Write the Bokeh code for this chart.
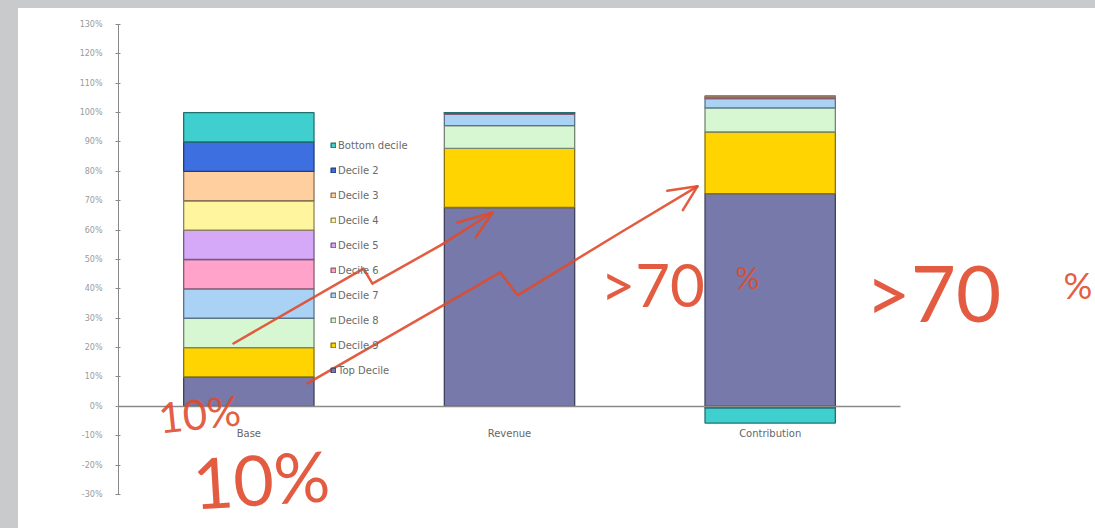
from bokeh.plotting import figure
from bokeh.models import Range1d, Legend, LegendItem, Label, FixedTicker
from bokeh.embed import file_html
from bokeh.resources import INLINE

# ---------------- data ----------------
categories = ["Base", "Revenue", "Contribution"]
series = ["Top Decile", "Decile 9", "Decile 8", "Decile 7", "Decile 6",
          "Decile 5", "Decile 4", "Decile 3", "Decile 2", "Bottom decile"]
base_pct = [10, 10, 10, 10, 10, 10, 10, 10, 10, 10]
revenue_pct = [67.7, 20.1, 7.8, 3.8, 0.3, 0.15, 0.05, 0.05, 0.03, 0.02]
contribution_pct = [72.4, 21.0, 8.2, 3.2, 0.4, 0.2, 0.2, 0.1, -0.6, -5.1]
y_ticks = [-30, -20, -10, 0, 10, 20, 30, 40, 50, 60, 70, 80, 90, 100, 110, 120, 130]
y_tick_labels = ["-30%", "-20%", "-10%", "0%", "10%", "20%", "30%", "40%", "50%",
                 "60%", "70%", "80%", "90%", "100%", "110%", "120%", "130%"]

# ---------------- styles ----------------
colors = ["#7779aa", "#ffd400", "#d6f7d2", "#a9d2f5", "#ffa3cb",
          "#d6a9f8", "#fff59e", "#ffcf9f", "#3e6fe0", "#3fcfcf"]


def darker(hex_color, f=0.55):
    r, g, b = (int(hex_color[i:i + 2], 16) for i in (1, 3, 5))
    return "#%02x%02x%02x" % (int(r * f), int(g * f), int(b * f))


values_by_category = [base_pct, revenue_pct, contribution_pct]
x_pos = [i + 0.5 for i in range(len(categories))]

# stacked bottoms / tops (positives up, negatives down)
bottoms = [[0.0] * len(categories) for _ in series]
tops = [[0.0] * len(categories) for _ in series]
for ci, vals in enumerate(values_by_category):
    pos, neg = 0.0, 0.0
    for si, v in enumerate(vals):
        if v >= 0:
            bottoms[si][ci], tops[si][ci] = pos, pos + v
            pos += v
        else:
            bottoms[si][ci], tops[si][ci] = neg + v, neg
            neg += v

p = figure(x_range=Range1d(0, 3.748), y_range=Range1d(-40.9, 130),
           width=1077, height=518,
           output_backend="svg", toolbar_location=None,
           min_border_left=100, min_border_right=0,
           min_border_top=16, min_border_bottom=0)
p.background_fill_color = "white"
p.border_fill_color = "white"
p.outline_line_color = None
p.xgrid.grid_line_color = None
p.ygrid.grid_line_color = None

renderers = []
for si, name in enumerate(series):
    r = p.vbar(x=x_pos, bottom=bottoms[si], top=tops[si], width=0.5,
               fill_color=colors[si], line_color=darker(colors[si]), line_width=1.3)
    renderers.append(r)

# y axis
p.yaxis.ticker = FixedTicker(ticks=y_ticks)
p.yaxis.major_label_overrides = {t: l for t, l in zip(y_ticks, y_tick_labels)}
p.yaxis.bounds = (-30, 130)
p.yaxis.minor_tick_line_color = None
p.yaxis.axis_line_color = "#8a8a8a"
p.yaxis.major_tick_line_color = "#8a8a8a"
p.yaxis.major_tick_out = 3
p.yaxis.major_tick_in = 2
p.yaxis.major_label_standoff = 13
p.yaxis.major_label_text_font = "DejaVu Sans"
p.yaxis.major_label_text_font_size = "8px"
p.yaxis.major_label_text_color = "#9a9a9a"

# category axis at zero
p.xaxis.fixed_location = 0
p.xaxis.bounds = (0, len(categories))
p.xaxis.ticker = FixedTicker(ticks=x_pos)
p.xaxis.major_label_overrides = {x: c for x, c in zip(x_pos, categories)}
p.xaxis.axis_line_color = "#8a8a8a"
p.xaxis.axis_line_width = 1.5
p.xaxis.major_tick_line_color = None
p.xaxis.minor_tick_line_color = None
p.xaxis.major_label_standoff = 16
p.xaxis.major_label_text_font = "DejaVu Sans"
p.xaxis.major_label_text_font_size = "10px"
p.xaxis.major_label_text_color = "#666666"

# legend
items = [LegendItem(label=series[i], renderers=[renderers[i]]) for i in range(len(series) - 1, -1, -1)]
legend = Legend(items=items, location=(212, 150), glyph_width=6, glyph_height=6,
                label_height=12, spacing=13, padding=0, margin=0,
                border_line_color=None, background_fill_alpha=0,
                label_standoff=2, label_text_font="DejaVu Sans",
                label_text_font_size="10px", label_text_color="#6a6a6a")
p.add_layout(legend)

# ---------------- hand-drawn annotations ----------------
red = "#e04a2c"
arrow1_x = [0.441, 0.940, 0.974, 1.235, 1.435]
arrow1_y = [21.4, 46.9, 41.8, 54.8, 66.0]
arrow1_head_x = [1.300, 1.435, 1.370]
arrow1_head_y = [62.6, 66.0, 57.5]
arrow2_x = [0.725, 1.465, 1.531, 1.926, 2.221]
arrow2_y = [7.8, 45.6, 37.8, 59.2, 74.9]
arrow2_head_x = [2.105, 2.221, 2.165]
arrow2_head_y = [73.4, 74.9, 66.8]
for xs, ys in ((arrow1_x, arrow1_y), (arrow1_head_x, arrow1_head_y),
               (arrow2_x, arrow2_y), (arrow2_head_x, arrow2_head_y)):
    p.line(xs, ys, line_color=red, line_width=2.5, line_alpha=0.9,
           line_join="round", line_cap="round")

notes = [(">70", 1.849, 41.5, "60px", 0.0),
         ("%", 2.367, 43.9, "30px", 0.0),
         (">70", 2.866, 39.0, "78px", 0.0),
         ("%", 3.625, 41.2, "36px", 0.0),
         ("10%", 0.153, -3.8, "42px", 0.1),
         ("10%", 0.284, -25.9, "70px", 0.06)]
for txt, x, y, size, ang in notes:
    p.add_layout(Label(x=x, y=y, text=txt, text_color=red, text_alpha=0.9,
                       text_font="Lato", text_font_size=size,
                       text_baseline="middle", angle=ang))

html = file_html(p, INLINE)
style = ("<style>html{margin:0;background:#c8cacc;}"
         "body{margin:0;padding:8px 0 0 18px;background:#ffffff;"
         "box-shadow:inset 18px 8px 0 0 #c8cacc;}</style>")
html = html.replace("</head>", style + "</head>", 1)
open("out.html", "w").write(html)
